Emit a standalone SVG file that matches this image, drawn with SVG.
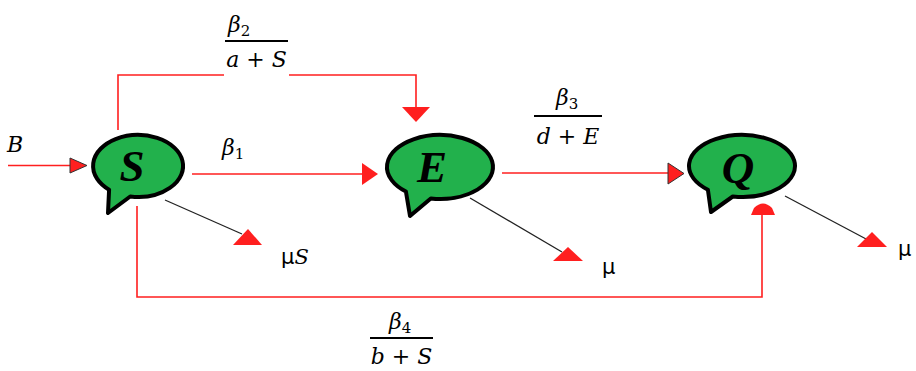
<svg xmlns="http://www.w3.org/2000/svg" width="916" height="371" viewBox="0 0 916 371">
<style>
.bubble{fill:#22b14c;stroke:#000;stroke-width:4;stroke-linejoin:round}
.node{font-family:"Liberation Serif","DejaVu Serif",serif;font-style:italic;font-weight:bold;font-size:45px;fill:#000;text-anchor:middle}
.red{fill:none;stroke:#ff1f1f;stroke-width:1.6}
.blk{fill:none;stroke:#222;stroke-width:1.3}
.head{fill:#ff1f1f}
.headb{fill:#ff1f1f;stroke:#333;stroke-width:1}
.bar{stroke:#000;stroke-width:2}
.m{font-family:"DejaVu Serif",serif;font-style:italic;font-size:22px;fill:#000}
.sub{font-style:normal;font-size:15px}
.mu{font-family:"DejaVu Sans","Liberation Sans",sans-serif;font-size:21px;fill:#000}
</style>
<g id="connectors">
  <path class="red" d="M8,165.5 H71"/>
  <polygon class="headb" points="70,158 87,165.5 70,173"/>
  <path class="red" d="M118,130 V75 H224 M289,75 H416 V108"/>
  <polygon class="head" points="402,107 430,107 416,122"/>
  <path class="red" d="M192,174 H362"/>
  <polygon class="head" points="362,163 378,174 362,185"/>
  <path class="red" d="M502,173 H668"/>
  <polygon class="headb" points="668,163 684,173.5 668,184"/>
  <path class="blk" d="M165,200 L242,234"/>
  <polygon class="head" points="233,245 262,245 248,229"/>
  <path class="blk" d="M470,198 L562,252"/>
  <polygon class="head" points="553,261 583,261 568,247"/>
  <path class="blk" d="M785,196 L868,240"/>
  <polygon class="head" points="857,247 887,247 872,232"/>
  <path class="red" d="M137,206 V297 H762 V215"/>
  <path class="head" d="M751,215 L754,208 Q763,199 772,208 L775,215 Z"/>
</g>
<g id="node-S">
  <path class="bubble" d="M130.2,196.5 L108,213 L109.1,189.7 A45 31 0 1 1 130.2,196.5 Z"/>
  <text class="node" x="132" y="181">S</text>
</g>
<g id="node-E">
  <path class="bubble" d="M430.8,198.5 L410,216 L405.9,191.5 A53 32 0 1 1 430.8,198.5 Z"/>
  <text class="node" x="432" y="182">E</text>
</g>
<g id="node-Q">
  <path class="bubble" d="M732.8,196.5 L711,212 L707.9,189.7 A53 31 0 1 1 732.8,196.5 Z"/>
  <text class="node" x="738" y="183">Q</text>
</g>
<g id="labels">
  <text class="m" x="7" y="152">B</text>
  <text class="m" x="222" y="155">β<tspan class="sub" dy="4">1</tspan></text>
  <text class="m" x="228" y="32">β<tspan class="sub" dy="4">2</tspan></text>
  <line class="bar" x1="225" y1="41" x2="288" y2="41"/>
  <text class="m" x="256.5" y="67" text-anchor="middle">a + S</text>
  <text class="m" x="556" y="105">β<tspan class="sub" dy="4">3</tspan></text>
  <line class="bar" x1="534" y1="116" x2="602" y2="116"/>
  <text class="m" x="568" y="144" text-anchor="middle">d + E</text>
  <text class="m" x="389" y="329">β<tspan class="sub" dy="4">4</tspan></text>
  <line class="bar" x1="370" y1="338" x2="433" y2="338"/>
  <text class="m" x="401.5" y="364" text-anchor="middle">b + S</text>
  <text class="mu" x="281" y="264">μ<tspan font-family="DejaVu Serif,serif" font-style="italic">S</tspan></text>
  <text class="mu" x="602" y="274">μ</text>
  <text class="mu" x="898" y="256">μ</text>
</g>
</svg>
